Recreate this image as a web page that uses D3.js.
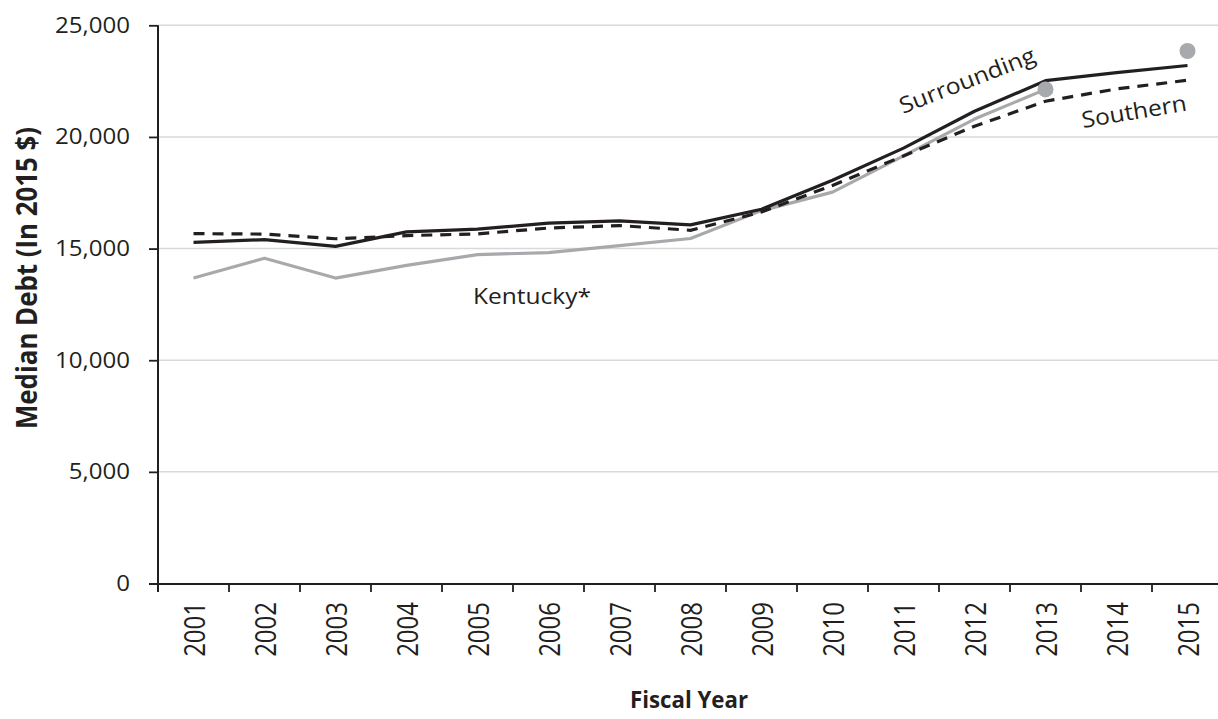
<!DOCTYPE html>
<html>
<head>
<meta charset="utf-8">
<script src="https://cdn.jsdelivr.net/npm/d3@7"></script>
<style>
  html, body { margin: 0; padding: 0; background: #fff; }
  svg { display: block; }
  text { font-family: "Open Sans", "Noto Sans", sans-serif; fill: #231f20; }
</style>
</head>
<body>
<svg id="chart" width="1218" height="719"></svg>
<script>
const years = ["2001","2002","2003","2004","2005","2006","2007","2008","2009","2010","2011","2012","2013","2014","2015"];
const surrounding = [15280, 15400, 15100, 15750, 15870, 16140, 16240, 16060, 16760, 18060, 19500, 21150, 22520, 22880, 23200];
const southern    = [15670, 15650, 15440, 15580, 15660, 15920, 16030, 15820, 16640, 17830, 19150, 20480, 21600, 22150, 22540];
const kentucky    = [13680, 14570, 13680, 14250, 14730, 14820, 15130, 15450, 16700, 17530, 19150, 20800, 22130, null, null];
const kentuckyDotYears = ["2013", "2015"];
const kentuckyDotValues = [22130, 23850];
const yTicks = [0, 5000, 10000, 15000, 20000, 25000];
const yTitle = "Median Debt (In 2015 $)";
const xTitle = "Fiscal Year";

const svg = d3.select("#chart");
const x = d3.scaleBand().domain(years).range([158, 1223]).padding(0);
const y = d3.scaleLinear().domain([0, 25000]).range([583.5, 25.3]);
const ink = "#231f20";
const STRETCH = 1.2;

// gridlines
svg.append("g").selectAll("line").data(yTicks.filter(d => d > 0)).join("line")
  .attr("x1", 158).attr("x2", 1218)
  .attr("y1", d => y(d)).attr("y2", d => y(d))
  .attr("stroke", "#d9d9d9").attr("stroke-width", 1.5);

// y axis
const yAxis = svg.append("g").attr("transform", "translate(158,0)")
  .call(d3.axisLeft(y).tickValues(yTicks).tickSize(9).tickSizeOuter(0).tickFormat(d3.format(",")).tickPadding(19));
yAxis.select(".domain").remove();
yAxis.selectAll(".tick line").attr("stroke", ink).attr("stroke-width", 1.8);
yAxis.selectAll(".tick text").attr("font-size", 21.5).attr("fill", ink)
  .attr("font-family", "'Open Sans', sans-serif")
  .each(function() { const L = this.getComputedTextLength(); d3.select(this).attr("textLength", L * 1.12).attr("lengthAdjust", "spacingAndGlyphs"); });
svg.append("line").attr("x1", 158).attr("x2", 158).attr("y1", y(25000)).attr("y2", 592)
  .attr("stroke", ink).attr("stroke-width", 2);

// x axis
svg.append("line").attr("x1", 149).attr("x2", 1218).attr("y1", 584).attr("y2", 584)
  .attr("stroke", ink).attr("stroke-width", 2);
const bounds = years.map(d => x(d)).concat([x(years[years.length - 1]) + x.bandwidth()]);
svg.append("g").selectAll("line").data(bounds).join("line")
  .attr("x1", d => d).attr("x2", d => d).attr("y1", 584).attr("y2", 592)
  .attr("stroke", ink).attr("stroke-width", 1.8);
svg.append("g").selectAll("text").data(years).join("text")
  .attr("transform", d => `translate(${x(d) + x.bandwidth() / 2 + 1},602) scale(${STRETCH},1) rotate(-90)`)
  .attr("text-anchor", "end").attr("dy", "0.36em")
  .attr("font-family", "'Liberation Sans', Arial, sans-serif").attr("font-size", 24)
  .attr("fill", ink)
  .text(d => d);

// axis titles
svg.append("text")
  .attr("transform", `translate(27,278) scale(${STRETCH},1) rotate(-90)`)
  .attr("text-anchor", "middle").attr("dy", "0.36em")
  .attr("font-weight", "bold").attr("font-size", 24)
  .attr("textLength", 302).attr("lengthAdjust", "spacingAndGlyphs")
  .text(yTitle);
svg.append("text")
  .attr("x", 689).attr("y", 708)
  .attr("text-anchor", "middle")
  .attr("font-weight", "bold").attr("font-size", 24)
  .attr("textLength", 118).attr("lengthAdjust", "spacingAndGlyphs")
  .text(xTitle);

// lines
const cx = d => x(d) + x.bandwidth() / 2;
const line = d3.line().defined(d => d[1] != null).x(d => cx(d[0])).y(d => y(d[1]));
const zipped = arr => years.map((yr, i) => [yr, arr[i]]);

svg.append("path").datum(zipped(kentucky)).attr("d", line)
  .attr("fill", "none").attr("stroke", "#a7a9ac").attr("stroke-width", 3.2).attr("stroke-linejoin", "round");
svg.append("path").datum(zipped(southern)).attr("d", line)
  .attr("fill", "none").attr("stroke", ink).attr("stroke-width", 3.2).attr("stroke-dasharray", "11,8");
svg.append("path").datum(zipped(surrounding)).attr("d", line)
  .attr("fill", "none").attr("stroke", ink).attr("stroke-width", 3.2).attr("stroke-linejoin", "round");

svg.append("g").selectAll("circle").data(kentuckyDotYears.map((yr, i) => [yr, kentuckyDotValues[i]])).join("circle")
  .attr("cx", d => cx(d[0])).attr("cy", d => y(d[1])).attr("r", 8)
  .attr("fill", "#a7a9ac");

// annotations
svg.append("text").attr("x", 473).attr("y", 304).attr("font-size", 22.5)
  .attr("textLength", 118).attr("lengthAdjust", "spacingAndGlyphs").text("Kentucky*");
svg.append("text").attr("transform", "translate(903,114) rotate(-21.4)").attr("font-size", 22.5)
  .attr("textLength", 144).attr("lengthAdjust", "spacingAndGlyphs").text("Surrounding");
svg.append("text").attr("transform", "translate(1083,128) rotate(-9.5)").attr("font-size", 22.5)
  .attr("textLength", 106).attr("lengthAdjust", "spacingAndGlyphs").text("Southern");
</script>
</body>
</html>
